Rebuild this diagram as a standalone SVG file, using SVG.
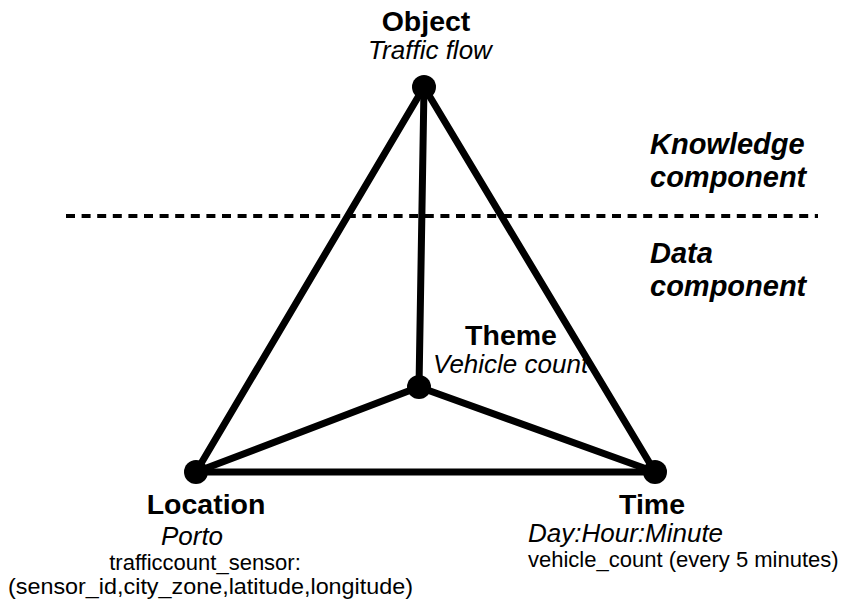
<svg xmlns="http://www.w3.org/2000/svg" width="844" height="602" viewBox="0 0 844 602">
<style>
.e{stroke:#000;stroke-width:7;stroke-linecap:round;fill:none}
.n{fill:#000}
text{font-family:"Liberation Sans",Arial,sans-serif;fill:#000}
.t{font-size:28.5px;font-weight:bold}
.s{font-size:26px;font-style:italic}
.d{font-size:22px}
.k{font-size:29px;font-weight:bold;font-style:italic}
</style>
<rect width="844" height="602" fill="#fff"/>
<g id="connectors">
<line class="e" x1="424" y1="87" x2="196" y2="472"/>
<line class="e" x1="424" y1="87" x2="655" y2="472"/>
<line class="e" x1="424" y1="87" x2="419" y2="387"/>
<line class="e" x1="419" y1="387" x2="196" y2="472"/>
<line class="e" x1="419" y1="387" x2="655" y2="472"/>
<line class="e" x1="196" y1="472" x2="655" y2="472"/>
</g>
<g id="divider">
<line x1="66" y1="216" x2="818" y2="216" stroke="#000" stroke-width="4" stroke-dasharray="9,6.6"/>
<text class="k" x="650" y="154">Knowledge</text>
<text class="k" x="650" y="187">component</text>
<text class="k" x="650" y="263">Data</text>
<text class="k" x="650" y="296">component</text>
</g>
<g id="object">
<circle class="n" cx="424" cy="87" r="12"/>
<text class="t" x="426" y="31" text-anchor="middle">Object</text>
<text class="s" x="430" y="59" text-anchor="middle">Traffic flow</text>
</g>
<g id="theme">
<circle class="n" cx="419" cy="387" r="12"/>
<text class="t" x="511" y="345" text-anchor="middle">Theme</text>
<text class="s" x="433" y="373">Vehicle count</text>
</g>
<g id="location">
<circle class="n" cx="196" cy="472" r="12"/>
<text class="t" x="206" y="514" text-anchor="middle">Location</text>
<text class="s" x="192" y="545" text-anchor="middle">Porto</text>
<text class="d" x="205" y="570" text-anchor="middle">trafficcount_sensor:</text>
<text class="d" x="8" y="594" textLength="405" lengthAdjust="spacingAndGlyphs">(sensor_id,city_zone,latitude,longitude)</text>
</g>
<g id="time">
<circle class="n" cx="655" cy="472" r="12"/>
<text class="t" x="652" y="514" text-anchor="middle">Time</text>
<text class="s" x="528" y="542">Day:Hour:Minute</text>
<text class="d" x="528" y="567">vehicle_count (every 5 minutes)</text>
</g>
</svg>
